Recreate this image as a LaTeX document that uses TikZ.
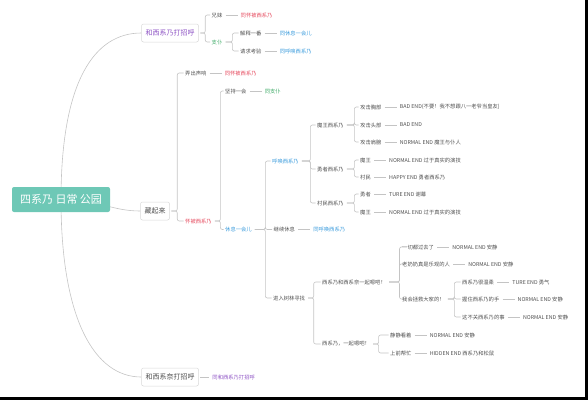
\documentclass[tikz,border=0pt]{standalone}
\usepackage{fontspec}
\setmainfont{Noto Sans CJK SC}
\usetikzlibrary{positioning,backgrounds}

\definecolor{rootteal}{HTML}{6EC8B6}
\definecolor{txtgray}{HTML}{505050}
\definecolor{linegray}{HTML}{C4C4C4}
\definecolor{boxgray}{HTML}{D8D8D8}
\definecolor{endred}{HTML}{E5485C}
\definecolor{endgreen}{HTML}{3DAA66}
\definecolor{endblue}{HTML}{3A9BDC}
\definecolor{endpurple}{HTML}{8D52C4}

\tikzset{
  lbl/.style={font=\fontsize{5.3}{6}\selectfont, text=txtgray, inner sep=1.5pt, anchor=west},
  redend/.style={lbl, text=endred},
  greenend/.style={lbl, text=endgreen},
  blueend/.style={lbl, text=endblue},
  purpleend/.style={lbl, text=endpurple},
  topic/.style={draw=boxgray, line width=0.5pt, fill=white, rounded corners=2pt,
    inner sep=4pt, minimum height=18pt, font=\fontsize{7}{8}\selectfont, text=txtgray},
  rootbox/.style={fill=rootteal, rounded corners=2pt, minimum width=98pt,
    minimum height=25pt, font=\fontsize{11}{12}\selectfont, text=white},
  link/.style={draw=linegray, line width=0.6pt},
  leaf/.style={link, shorten <=1.5pt, shorten >=1.5pt},
  fork/.style={link, rounded corners=2pt, shorten <=1.5pt},
}

% parent, stub length, children
\newcommand\forkto[3]{%
  \foreach \kid in {#3}
    \draw[fork] (#1.east) -- ++(#2,0) |- (\kid.west);}

\begin{document}
\begin{tikzpicture}[x=1pt,y=-1pt]
\useasboundingbox (0,0) rectangle (588,400);

% main topics
\node[rootbox] (root) at (61,199.5) {四系乃 日常 公园};
\node[topic, text=endpurple] (hello1) at (170,33) {和西系乃打招呼};
\node[topic] (hide) at (155,211) {藏起来};
\node[topic] (hello2) at (170,377) {和西系奈打招呼};
\node[purpleend, right=12pt of hello2] (hello2E) {同和西系乃打招呼};

% greeting branch
\node[lbl] (sib) at (210,15) {兄妹};
\node[redend, right=15pt of sib] (sibE) {同怀被西系乃};
\node[greenend] (serv) at (210,42) {支仆};
\node[lbl] (explain) at (238.5,33) {解释一番};
\node[blueend, right=15pt of explain] (explainE) {同休息一会儿};
\node[lbl] (trial) at (238.5,51) {请求考验};
\node[blueend, right=15pt of trial] (trialE) {同呼唤西系乃};

% hiding branch
\node[lbl] (noise) at (183.5,73) {弄出声响};
\node[redend, right=15pt of noise] (noiseE) {同怀被西系乃};
\node[redend] (caught) at (183.5,221) {怀被西系乃};
\node[lbl] (hold) at (223.5,91) {坚持一会};
\node[greenend, right=15pt of hold] (holdE) {同支仆};
\node[blueend] (rest) at (223.5,229.5) {休息一会儿};
\node[blueend] (call) at (270.5,161) {呼唤西系乃};
\node[lbl] (keep) at (272,229.5) {继续休息};
\node[blueend, right=15pt of keep] (keepE) {同呼唤西系乃};
\node[lbl] (forest) at (271.5,298) {进入树林寻找};

\node[lbl] (demon) at (315.5,125) {魔王西系乃};
\node[lbl] (hero) at (315.5,169) {勇者西系乃};
\node[lbl] (village) at (315.5,203) {村民西系乃};

\node[lbl] (dChest) at (358.5,107) {攻击胸部};
\node[lbl, right=15pt of dChest] (dChestE) {BAD END(不要！我不想跟八一老爷当皇友)};
\node[lbl] (dHead) at (358.5,125) {攻击头部};
\node[lbl, right=15pt of dHead] (dHeadE) {BAD END};
\node[lbl] (dShoulder) at (358.5,142) {攻击肩膀};
\node[lbl, right=15pt of dShoulder] (dShoulderE) {NORMAL END 魔王与仆人};

\node[lbl] (hDemon) at (358.5,160) {魔王};
\node[lbl, right=15pt of hDemon] (hDemonE) {NORMAL END 过于真实的演技};
\node[lbl] (hVillager) at (358.5,177) {村民};
\node[lbl, right=15pt of hVillager] (hVillagerE) {HAPPY END 勇者西系乃};

\node[lbl] (vHero) at (358.5,194) {勇者};
\node[lbl, right=15pt of vHero] (vHeroE) {TURE END 谢幕};
\node[lbl] (vDemon) at (358.5,212) {魔王};
\node[lbl, right=15pt of vDemon] (vDemonE) {NORMAL END 过于真实的演技};

\node[lbl] (together) at (320.5,282) {西系乃和西系奈一起嗯吧！};
\node[lbl] (us) at (320.5,344) {西系乃，一起嗯吧！};

\node[lbl] (past) at (400.5,247) {一切都过去了};
\node[lbl, right=15pt of past] (pastE) {NORMAL END 安静};
\node[lbl] (granny) at (400.5,264) {老奶奶真是乐观的人};
\node[lbl, right=15pt of granny] (grannyE) {NORMAL END 安静};
\node[lbl] (save) at (400.5,299) {我会拯救大家的！};

\node[lbl] (gentle) at (460.5,282) {西系乃很温柔};
\node[lbl, right=15pt of gentle] (gentleE) {TURE END 勇气};
\node[lbl] (hand) at (460.5,299) {握住西系乃的手};
\node[lbl, right=15pt of hand] (handE) {NORMAL END 安静};
\node[lbl] (notyou) at (460.5,317) {这不关西系乃的事};
\node[lbl, right=15pt of notyou] (notyouE) {NORMAL END 安静};

\node[lbl] (watch) at (388.5,335) {静静看着};
\node[lbl, right=15pt of watch] (watchE) {NORMAL END 安静};
\node[lbl] (help) at (388.5,353) {上前帮忙};
\node[lbl, right=15pt of help] (helpE) {HIDDEN END 西系乃和松鼠};

\begin{scope}[on background layer]
  \draw[link] (root.center) .. controls (61,80) and (95,33) .. (hello1.west);
  \draw[link] (root.center) .. controls (100,200) and (112,211) .. (hide.west);
  \draw[link] (root.center) .. controls (61,320) and (95,377) .. (hello2.west);

  \forkto{hello1}{6.5}{sib,serv}
  \forkto{serv}{8.4}{explain,trial}
  \forkto{hide}{7.5}{noise,caught}
  \forkto{caught}{7}{hold,rest}
  \forkto{rest}{12}{call,keep,forest}
  \forkto{call}{10}{demon,hero,village}
  \forkto{demon}{9}{dChest,dHead,dShoulder}
  \forkto{hero}{9}{hDemon,hVillager}
  \forkto{village}{9}{vHero,vDemon}
  \forkto{forest}{7}{together,us}
  \forkto{together}{12}{past,granny,save}
  \forkto{save}{8}{gentle,hand,notyou}
  \forkto{us}{7}{watch,help}

  \foreach \a/\b in {hello2/hello2E, sib/sibE, explain/explainE, trial/trialE,
      noise/noiseE, hold/holdE, keep/keepE, dChest/dChestE, dHead/dHeadE,
      dShoulder/dShoulderE, hDemon/hDemonE, hVillager/hVillagerE,
      vHero/vHeroE, vDemon/vDemonE, past/pastE, granny/grannyE,
      gentle/gentleE, hand/handE, notyou/notyouE, watch/watchE, help/helpE}
    \draw[leaf] (\a) -- (\b);
\end{scope}

% dark edges of the screenshot
\fill[black] (585,0) rectangle (588,400);
\fill[black] (0,397) rectangle (588,400);
\end{tikzpicture}
\end{document}
